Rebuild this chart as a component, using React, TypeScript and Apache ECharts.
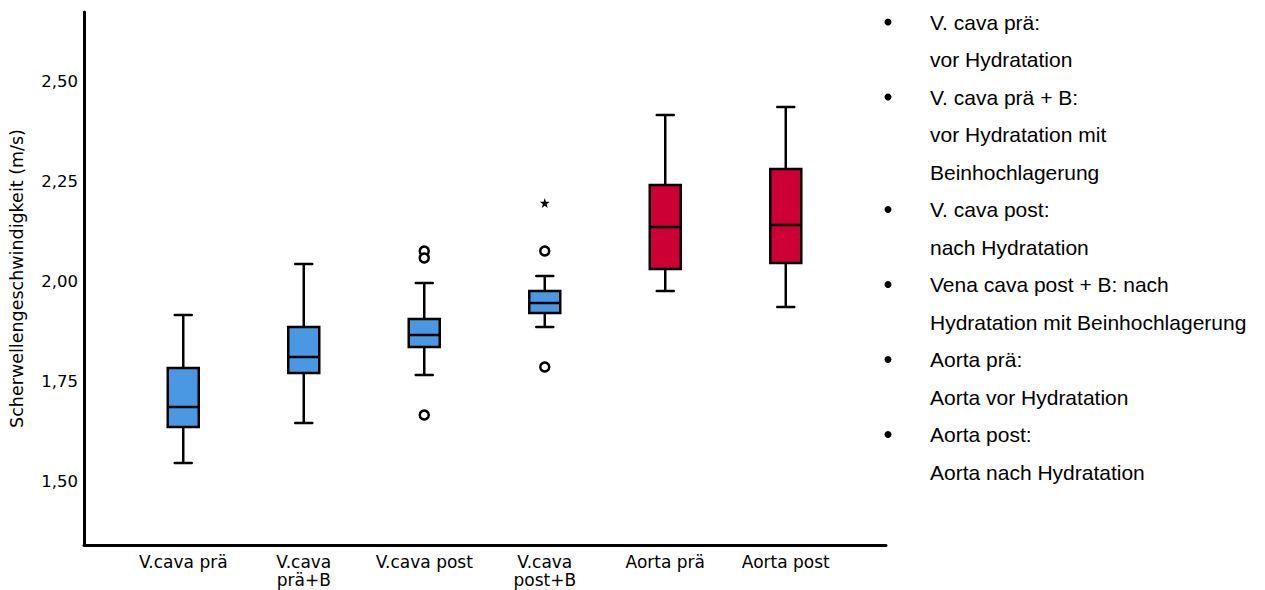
import React, { useEffect, useRef } from "react";
import * as echarts from "echarts";

const categories = ["V.cava prä", "V.cava\nprä+B", "V.cava post", "V.cava\npost+B", "Aorta prä", "Aorta post"];
// [min, Q1, median, Q3, max]
const boxValues = [
  [1.545, 1.635, 1.685, 1.7825, 1.915],
  [1.645, 1.77, 1.81, 1.885, 2.0425],
  [1.765, 1.835, 1.865, 1.905, 1.995],
  [1.885, 1.92, 1.945, 1.975, 2.0125],
  [1.975, 2.03, 2.135, 2.24, 2.415],
  [1.935, 2.045, 2.14, 2.28, 2.435],
];
const boxColors = ["#4a97e2", "#4a97e2", "#4a97e2", "#4a97e2", "#cc0035", "#cc0035"];
// [category index, value]
const outliers = [
  [2, 2.075],
  [2, 2.0575],
  [2, 1.665],
  [3, 2.075],
  [3, 1.785],
];
const extremes = [[3, 2.195]];
const yTicks = [1.5, 1.75, 2.0, 2.25, 2.5];
const yMin = 1.34;
const yMax = 2.6725;
const yTitle = "Scherwellengeschwindigkeit (m/s)";
const legendLines = [
  { text: "V. cava prä:", bullet: true },
  { text: "vor Hydratation", bullet: false },
  { text: "V. cava prä + B:", bullet: true },
  { text: "vor Hydratation mit", bullet: false },
  { text: "Beinhochlagerung", bullet: false },
  { text: "V. cava post:", bullet: true },
  { text: "nach Hydratation", bullet: false },
  { text: "Vena cava post + B: nach", bullet: true },
  { text: "Hydratation mit Beinhochlagerung", bullet: false },
  { text: "Aorta prä:", bullet: true },
  { text: "Aorta vor Hydratation", bullet: false },
  { text: "Aorta post:", bullet: true },
  { text: "Aorta nach Hydratation", bullet: false },
];

const STAR = "path://M50,0 L61,35 L98,35 L68,57 L79,91 L50,70 L21,91 L32,57 L2,35 L39,35 Z";

export default function App() {
  const ref = useRef<HTMLDivElement>(null);
  useEffect(() => {
    if (!ref.current) return;
    const chart = echarts.init(ref.current, null, { renderer: "svg" });
    const font = "DejaVu Sans";
    const legendGraphics: any[] = [];
    legendLines.forEach((l, i) => {
      const y = 22 + i * 37.5;
      if (l.bullet) {
        legendGraphics.push({ type: "circle", shape: { cx: 888, cy: y, r: 3.5 }, style: { fill: "#000" } });
      }
      legendGraphics.push({
        type: "text",
        x: 930,
        y,
        style: { text: l.text, fill: "#000", font: '21px "Liberation Sans", Arial, sans-serif', verticalAlign: "middle", align: "left" },
      });
    });
    const option: any = {
      animation: false,
      backgroundColor: "#fff",
      grid: [
        { left: 81, right: 379, top: 12, bottom: 45 },
        { left: 123, right: 419, top: 12, bottom: 45 },
      ],
      xAxis: [
        {
          type: "value", gridIndex: 0, min: 0, max: 1,
          axisLine: { show: true, lineStyle: { color: "#000", width: 3 } },
          axisTick: { show: false }, axisLabel: { show: false }, splitLine: { show: false },
        },
        {
          type: "category", gridIndex: 1, data: categories,
          axisLine: { show: false }, axisTick: { show: false }, splitLine: { show: false },
          axisLabel: { color: "#000", fontFamily: font, fontSize: 17, margin: 8, lineHeight: 18, interval: 0 },
        },
      ],
      yAxis: [
        {
          type: "value", gridIndex: 0, min: yMin, max: yMax,
          axisLine: { show: true, lineStyle: { color: "#000", width: 3 } },
          axisTick: { show: false }, splitLine: { show: false },
          axisLabel: {
            customValues: yTicks, color: "#000", fontFamily: font, fontSize: 16.5, margin: 6,
            formatter: (v: number) => v.toFixed(2).replace(".", ","),
          },
          name: yTitle, nameLocation: "middle", nameGap: 58, nameRotate: 90,
          nameTextStyle: { color: "#000", fontFamily: font, fontSize: 17.5 },
        },
        {
          type: "value", gridIndex: 1, min: yMin, max: yMax, show: false,
        },
      ],
      series: [
        {
          type: "custom",
          xAxisIndex: 1, yAxisIndex: 1,
          data: boxValues.map((b, i) => [i, ...b]),
          encode: { x: 0, y: [1, 2, 3, 4, 5] },
          renderItem: (params: any, api: any) => {
            const i = api.value(0);
            const ys = [1, 2, 3, 4, 5].map((k) => api.coord([i, api.value(k)]));
            const x = ys[0][0];
            const [pMin, pQ1, pMed, pQ3, pMax] = ys.map((p: number[]) => p[1]);
            const hw = 15.5, cw = 8.5;
            const ls = { stroke: "#000", lineWidth: 2.5 };
            return {
              type: "group",
              children: [
                { type: "line", shape: { x1: x, y1: pMax, x2: x, y2: pQ3 }, style: ls },
                { type: "line", shape: { x1: x, y1: pQ1, x2: x, y2: pMin }, style: ls },
                { type: "line", shape: { x1: x - cw, y1: pMax, x2: x + cw, y2: pMax }, style: { ...ls, lineCap: "round" } },
                { type: "line", shape: { x1: x - cw, y1: pMin, x2: x + cw, y2: pMin }, style: { ...ls, lineCap: "round" } },
                { type: "rect", shape: { x: x - hw, y: pQ3, width: 2 * hw, height: pQ1 - pQ3 }, style: { fill: boxColors[i], stroke: "#000", lineWidth: 2.5 } },
                { type: "line", shape: { x1: x - hw, y1: pMed, x2: x + hw, y2: pMed }, style: ls },
              ],
            };
          },
        },
        {
          type: "scatter", xAxisIndex: 1, yAxisIndex: 1, data: outliers,
          symbol: "circle", symbolSize: 9,
          itemStyle: { color: "#fff", borderColor: "#000", borderWidth: 2.5, opacity: 1 },
        },
        {
          type: "scatter", xAxisIndex: 1, yAxisIndex: 1, data: extremes,
          symbol: STAR, symbolSize: 10,
          itemStyle: { color: "#000", opacity: 1 },
        },
      ],
      graphic: legendGraphics,
    };
    chart.setOption(option);
    return () => chart.dispose();
  }, []);
  return <div ref={ref} style={{ position: "fixed", left: 0, top: 0, width: 1265, height: 590 }} />;
}
